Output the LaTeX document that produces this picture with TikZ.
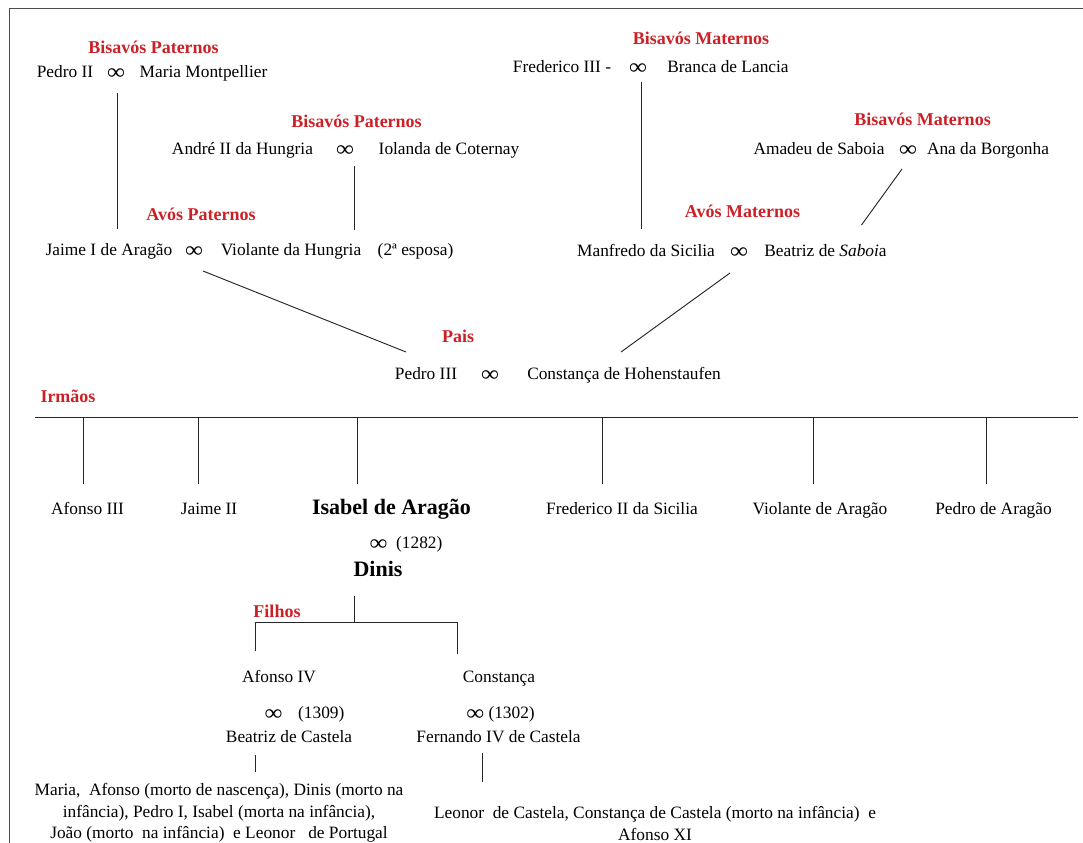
\documentclass[tikz,border=0pt]{standalone}
\usepackage{graphicx}
\usepackage{fontspec}
\setmainfont{Liberation Serif}
\definecolor{titlered}{RGB}{204,32,39}
\newcommand{\casou}{\raisebox{-0.08em}{\scalebox{1.45}[1.3]{∞}}}

\begin{document}
\begin{tikzpicture}[
    x = 0.75pt, y = -0.75pt, % one unit = one pixel, y going down
    inner sep = 0pt,
    line width = 0.7pt % line style
    ]

    \tikzset{
    person/.style = {font=\fontsize{13}{16}\selectfont, text height=0.95em, text depth=0.1em},
    group/.style = {font=\fontsize{13.5}{16}\selectfont\bfseries, text=titlered, text height=0.95em, text depth=0.1em},
    main/.style = {font=\fontsize{16.5}{20}\selectfont\bfseries, text height=0.95em, text depth=0.1em},
    kids/.style = {font=\fontsize{13}{16.3}\selectfont, align=center},
    link/.style = {draw=black!85}
    }
    \useasboundingbox (0,0) rectangle (1083,843);
    \draw[black!70] (9,843) -- (9,8) -- (1083,8);

    % bisavos paternos
    \node[group] (bp1) at (153.5,48) {Bisavós Paternos};
    \node[person] (p2) at (65,72) {Pedro II};
    \node[person] (m1) at (116,72) {\casou};
    \node[person] (mm) at (203.5,72) {Maria Montpellier};

    \node[group] (bp2) at (356.5,122) {Bisavós Paternos};
    \node[person] (a2) at (242.5,149) {André II da Hungria};
    \node[person] (m2) at (345,149) {\casou};
    \node[person] (ic) at (449,149) {Iolanda de Coternay};

    % avos paternos
    \node[group] (ap) at (201,215) {Avós Paternos};
    \node[person] (j1) at (109,250) {Jaime I de Aragão};
    \node[person] (m3) at (194,250) {\casou};
    \node[person] (vh) at (291,250) {Violante da Hungria};
    \node[person] (es) at (415.5,250) {(2ª esposa)};

    % bisavos maternos
    \node[group] (bm1) at (701,39) {Bisavós Maternos};
    \node[person] (f3) at (562,67) {Frederico III -};
    \node[person] (m4) at (638,67) {\casou};
    \node[person] (bl) at (728,67) {Branca de Lancia};

    \node[group] (bm2) at (922.5,120) {Bisavós Maternos};
    \node[person] (ad) at (819,149) {Amadeu de Saboia};
    \node[person] (m5) at (908,149) {\casou};
    \node[person] (ab) at (988,149) {Ana da Borgonha};

    % avos maternos
    \node[group] (am) at (742.5,212) {Avós Maternos};
    \node[person] (mf) at (646,251) {Manfredo da Sicilia};
    \node[person] (m6) at (739,251) {\casou};
    \node[person] (bs) at (825.5,251) {Beatriz de \textit{Saboi}a};

    % pais
    \node[group] (pais) at (458,337) {Pais};
    \node[person] (p3) at (426,374) {Pedro III};
    \node[person] (m7) at (490,374) {\casou};
    \node[person] (ch) at (624,374) {Constança de Hohenstaufen};

    % irmaos
    \node[group] (irm) at (68,397) {Irmãos};
    \coordinate (barL) at (35,417);
    \coordinate (barR) at (1078,417);
    \node[person] (s1) at (87.5,509) {Afonso III};
    \node[person] (s2) at (209,509) {Jaime II};
    \node[main] (isa) at (391.5,509) {Isabel de Aragão};
    \node[person] (s4) at (622,509) {Frederico II da Sicilia};
    \node[person] (s5) at (820,509) {Violante de Aragão};
    \node[person] (s6) at (993.5,509) {Pedro de Aragão};

    \node[person] (m8) at (406,543) {\casou\enspace(1282)};
    \node[main] (dinis) at (378,571) {Dinis};

    % filhos
    \node[group] (fil) at (277,612) {Filhos};
    \node[person] (a4) at (279,677) {Afonso IV};
    \node[person] (cf) at (499,677) {Constança};
    \node[person] (m9) at (304.5,713) {\casou\hspace{0.9em}(1309)};
    \node[person] (m10) at (500.5,713) {\casou\ (1302)};
    \node[person] (bc) at (289,737) {Beatriz de Castela};
    \node[person] (fc) at (498.5,737) {Fernando IV de Castela};
    \node[kids] (k1) at (219,813) {Maria,\ \ Afonso (morto de nascença), Dinis (morto na\\
      infância), Pedro I, Isabel (morta na infância),\\
      João (morto\ \ na infância)\ \ e Leonor\ \ \ de Portugal};
    \node[kids] (k2) at (655,823.5) {Leonor\ \ de Castela, Constança de Castela (morto na infância)\ \ e\\
      Afonso XI};

    \draw[link] ([shift={(1,21)}]m1.center) -- ([shift={(1,-21)}]m1 |- j1);
    \draw[link] ([shift={(9,17)}]m2.center) -- ([shift={(9,-20)}]m2 |- vh);
    \draw[link] ([shift={(3,15)}]m4.center) -- ([shift={(3,-22)}]m4 |- mf);
    \draw[link] ([shift={(-6,20)}]m5.center) -- ([shift={(36,-26)}]bs.center);
    \draw[link] ([shift={(9,21)}]m3.center) -- ([shift={(-20,-22)}]p3.center);
    \draw[link] ([shift={(-9,22)}]m6.center) -- ([shift={(-3,-22)}]ch.center);

    \draw[link] (barL) -- (barR);
    \foreach \s/\dx in {s1/-4.5, s2/-11, isa/-34.5, s4/-20, s5/-7, s6/-7.5}
      \draw[link] ([shift={(\dx,0)}]\s |- barL) -- ([shift={(\dx,-25)}]\s.center);

    \draw[link] ([shift={(-24,25)}]dinis.center) -- ([shift={(-24,51)}]dinis.center);
    \draw[link] ([shift={(-24,-26)}]a4.center) -- ([shift={(-24,-55)}]a4.center)
      -- ([shift={(-42,-55)}]cf.center) -- ([shift={(-42,-23)}]cf.center);
    \draw[link] ([shift={(-34,18)}]bc.center) -- ([shift={(-34,-11)}]bc |- k1.north);
    \draw[link] ([shift={(-16.5,16)}]fc.center) -- ([shift={(-16.5,-23.5)}]fc |- k2.north);
\end{tikzpicture}
\end{document}
